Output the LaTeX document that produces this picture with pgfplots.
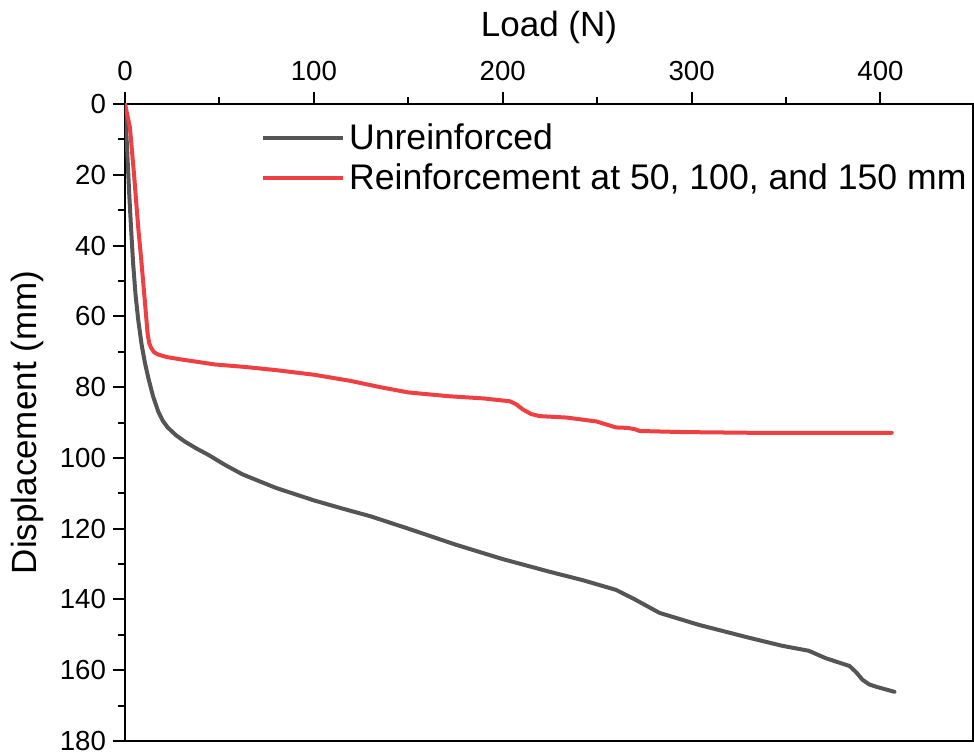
\documentclass[border=0pt]{standalone}
\usepackage{fontspec}
\setmainfont{Liberation Sans}
\usepackage{pgfplots}
\pgfplotsset{compat=1.18}

\definecolor{unreinf}{RGB}{85,85,85}
\definecolor{reinf}{RGB}{238,64,66}

\begin{document}
\begin{tikzpicture}
\begin{axis}[
  name=ax,
  at={(0,0)}, anchor=south west,
  scale only axis,
  width=424pt, height=318.5pt,
  xmin=0, xmax=449, ymin=0, ymax=180,
  y dir=reverse,
  axis line style={line width=1pt, black},
  xtick={0,100,200,300,400},
  ytick={0,20,40,60,80,100,120,140,160,180},
  minor x tick num=1, minor y tick num=1,
  xtick pos=upper, xticklabel pos=upper,
  ytick pos=left, yticklabel pos=left,
  tick align=outside,
  major tick length=6pt, minor tick length=3.5pt,
  every tick/.style={black, line width=1pt},
  /pgf/number format/assume math mode=true,
  xticklabel style={font=\fontsize{13.8}{16}\selectfont, yshift=2pt},
  yticklabel style={font=\fontsize{13.8}{16}\selectfont, xshift=0pt},
  xlabel={Load (N)},
  xlabel style={font=\fontsize{17.5}{20}\selectfont, yshift=2pt},
  ylabel={Displacement (mm)},
  ylabel style={font=\fontsize{17.5}{20}\selectfont, yshift=1pt},
  legend style={at={(0.153,0.983)}, anchor=north west, draw=none, fill=none,
    font=\fontsize{17.8}{20}\selectfont, row sep=2pt,
    /tikz/every even column/.append style={column sep=2pt}},
  legend cell align=left,
  legend image code/.code={\draw[#1, line width=2pt, line cap=butt] (0pt,0pt) -- (40pt,0pt);},
  every axis plot/.append style={line width=2pt, line join=round, line cap=round},
]
\addplot[unreinf] coordinates {
  (0,0) (0.7,8) (1.4,16) (2.2,25) (3.2,35) (4.3,45) (5.6,54) (7,61) (8.8,68)
  (10.5,73) (12.3,77.3) (14.8,82.5) (17.6,86.9) (20,89.5) (22.6,91.4)
  (27,93.6) (31.7,95.4) (38,97.4) (44,99.1) (53,102) (62.4,104.7)
  (80,108.5) (100,112) (115,114.3) (130,116.5) (150,120) (175,124.5)
  (200,128.6) (225,132.2) (242,134.5) (260,137.3) (270,140) (283,143.8)
  (304,147.2) (331,150.9) (348,153.1) (362,154.5) (371,156.6) (383.6,158.8)
  (387,160.5) (390.5,162.7) (394,164) (397.9,164.7) (407.4,166.1)
};
\addlegendentry{Unreinforced}
\addplot[reinf] coordinates {
  (0,0) (2.6,6.6) (4.8,20) (7,34.9) (8.6,44) (10.2,53.8) (12,65) (12.8,67.5)
  (13.8,68.9) (15.5,70.2) (17.6,70.8) (22,71.5) (30,72.2) (47.6,73.6)
  (63.5,74.3) (80,75.2) (100,76.5) (119,78.2) (135,80) (150,81.5)
  (172,82.6) (190,83.2) (203.7,84) (207,84.8) (210.6,86.3) (215,87.6)
  (219.6,88.2) (233.8,88.6) (249.6,89.7) (260,91.4) (265,91.5) (267,91.6)
  (270,91.9) (272.5,92.4) (295,92.7) (330,92.9) (406,92.9)
};
\addlegendentry{Reinforcement at 50, 100, and 150 mm}
\end{axis}
\pgfresetboundingbox
\path[use as bounding box] (-62.5pt,-6.5pt) rectangle (424.5pt,370.5pt);
\end{tikzpicture}
\end{document}
